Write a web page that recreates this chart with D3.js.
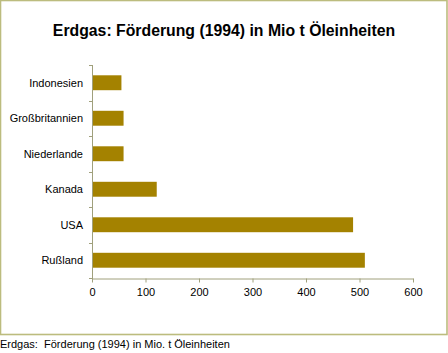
<!DOCTYPE html>
<html>
<head>
<meta charset="utf-8">
<script src="https://cdn.jsdelivr.net/npm/d3@7"></script>
<style>
	body { margin: 0; background: #fff; }
	text { font-family: Arial, "Liberation Sans", sans-serif; fill: #000; }
</style>
</head>
<body>
<svg id="chart"></svg>
<script>
const countries = [ 'Indonesien', 'Großbritannien', 'Niederlande', 'Kanada', 'USA', 'Rußland' ];
const values = [ 55, 59, 59, 121, 488, 510 ];
const xTicks = [ 0, 100, 200, 300, 400, 500, 600 ];

const width = 448;
const height = 353;
const margin = { top: 65, right: 35, bottom: 75, left: 92 };
const axisColor = '#a0a07c';

const svg = d3.select( '#chart' )
	.attr( 'width', width )
	.attr( 'height', height );

// Frame
svg.append( 'rect' )
	.attr( 'x', 0.5 )
	.attr( 'y', 0.5 )
	.attr( 'width', 446.5 )
	.attr( 'height', 334 )
	.attr( 'fill', 'none' )
	.attr( 'stroke', '#bcbc7e' )
	.attr( 'stroke-width', 1.6 );

svg.append( 'text' )
	.attr( 'x', 224 )
	.attr( 'y', 36 )
	.attr( 'text-anchor', 'middle' )
	.style( 'font-size', '15.8px' )
	.style( 'font-weight', 'bold' )
	.text( 'Erdgas: Förderung (1994) in Mio t Öleinheiten' );

const xScale = d3.scaleLinear()
	.domain( [ 0, 600 ] )
	.range( [ margin.left, 413 ] );

const yScale = d3.scaleBand()
	.domain( countries )
	.range( [ margin.top, 278 ] )
	.paddingInner( 0.58 )
	.paddingOuter( 0.29 );

svg.selectAll( 'rect.bar' )
	.data( values )
	.enter()
	.append( 'rect' )
	.attr( 'class', 'bar' )
	.attr( 'x', xScale( 0 ) )
	.attr( 'y', ( d, i ) => yScale( countries[ i ] ) )
	.attr( 'width', ( d ) => xScale( d ) - xScale( 0 ) )
	.attr( 'height', yScale.bandwidth() )
	.attr( 'fill', '#a48200' );

// Y axis with ticks between categories
const yAxis = svg.append( 'g' );
const step = ( 278 - margin.top ) / countries.length;
yAxis.append( 'line' )
	.attr( 'x1', xScale( 0 ) + 0.5 )
	.attr( 'x2', xScale( 0 ) + 0.5 )
	.attr( 'y1', margin.top )
	.attr( 'y2', 282 )
	.attr( 'stroke', axisColor );
yAxis.selectAll( 'line.tick' )
	.data( d3.range( countries.length + 1 ) )
	.enter()
	.append( 'line' )
	.attr( 'class', 'tick' )
	.attr( 'x1', xScale( 0 ) - 3 )
	.attr( 'x2', xScale( 0 ) )
	.attr( 'y1', ( d ) => Math.round( margin.top + d * step ) + 0.5 )
	.attr( 'y2', ( d ) => Math.round( margin.top + d * step ) + 0.5 )
	.attr( 'stroke', axisColor );
yAxis.selectAll( 'text' )
	.data( countries )
	.enter()
	.append( 'text' )
	.attr( 'x', 83 )
	.attr( 'y', ( d ) => yScale( d ) + yScale.bandwidth() / 2 + 4 )
	.attr( 'text-anchor', 'end' )
	.style( 'font-size', '11px' )
	.text( ( d ) => d );

// X axis
const xAxis = svg.append( 'g' )
	.attr( 'transform', 'translate(0,278.5)' )
	.call( d3.axisBottom( xScale ).tickValues( xTicks ).tickSize( 4 ).tickSizeOuter( 0 ) );
xAxis.select( '.domain' ).attr( 'stroke', axisColor );
xAxis.selectAll( '.tick line' ).attr( 'stroke', axisColor );
xAxis.selectAll( '.tick text' )
	.attr( 'y', 10 )
	.style( 'font-size', '11px' )
	.style( 'font-family', 'Arial, "Liberation Sans", sans-serif' );

svg.append( 'text' )
	.attr( 'x', 0 )
	.attr( 'y', 348 )
	.style( 'font-size', '11px' )
	.attr( 'xml:space', 'preserve' )
	.text( 'Erdgas:  Förderung (1994) in Mio. t Öleinheiten' );
</script>
</body>
</html>
